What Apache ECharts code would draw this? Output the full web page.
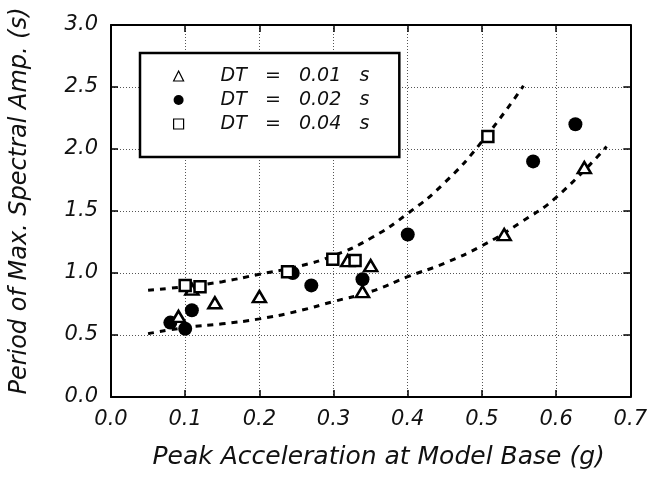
<!DOCTYPE html>
<html>
<head>
<meta charset="utf-8">
<script src="https://cdn.jsdelivr.net/npm/echarts@6/dist/echarts.min.js"></script>
<style>html,body{margin:0;padding:0;background:#fff}#c{width:650px;height:482px}</style>
</head>
<body>
<div id="c"></div>
<script>
// ---- data ----
var xTicks = [0.0, 0.1, 0.2, 0.3, 0.4, 0.5, 0.6, 0.7];
var yTicks = [0.0, 0.5, 1.0, 1.5, 2.0, 2.5, 3.0];

var dt01Name = 'DT   =   0.01   s';
var dt01X = [0.091, 0.109, 0.140, 0.200, 0.319, 0.339, 0.350, 0.530, 0.638];
var dt01Y = [0.65, 0.87, 0.76, 0.81, 1.10, 0.85, 1.06, 1.31, 1.85];

var dt02Name = 'DT   =   0.02   s';
var dt02X = [0.080, 0.100, 0.109, 0.245, 0.270, 0.339, 0.400, 0.569, 0.626];
var dt02Y = [0.60, 0.55, 0.70, 1.00, 0.90, 0.95, 1.31, 1.90, 2.20];

var dt04Name = 'DT   =   0.04   s';
var dt04X = [0.100, 0.120, 0.238, 0.299, 0.329, 0.508];
var dt04Y = [0.90, 0.89, 1.01, 1.11, 1.10, 2.10];

var upperX = [0.05, 0.10, 0.15, 0.20, 0.25, 0.30, 0.35, 0.40, 0.45, 0.50, 0.556];
var upperY = [0.86, 0.89, 0.93, 0.99, 1.05, 1.14, 1.28, 1.48, 1.73, 2.06, 2.51];

var lowerX = [0.05, 0.10, 0.15, 0.20, 0.25, 0.30, 0.35, 0.40, 0.45, 0.50, 0.55, 0.60, 0.668];
var lowerY = [0.51, 0.56, 0.59, 0.63, 0.69, 0.77, 0.85, 0.97, 1.08, 1.22, 1.40, 1.61, 2.02];

var xTitle = 'Peak Acceleration at Model Base (g)';
var yTitle = 'Period of Max. Spectral Amp. (s)';

function zip(xs, ys) { return xs.map(function (x, i) { return [x, ys[i]]; }); }

var FONT = 'DejaVu Sans';

var chart = echarts.init(document.getElementById('c'), null, { renderer: 'canvas' });

function baseAxis(extra) {
  var a = {
    type: 'value',
    axisLine: { show: true, onZero: false, lineStyle: { color: '#000', width: 2 } },
    axisTick: { show: true, inside: true, length: 7, lineStyle: { color: '#000', width: 1.5 } },
    splitLine: { show: false },
    axisLabel: { show: false }
  };
  for (var k in extra) a[k] = extra[k];
  return a;
}

var option = {
  animation: false,
  backgroundColor: '#fff',
  grid: { left: 110, right: 18, top: 25, bottom: 85, containLabel: false },
  xAxis: [
    baseAxis({
      min: xTicks[0], max: xTicks[xTicks.length - 1], interval: 0.1,
      position: 'bottom',
      axisLabel: { show: true, margin: 12, formatter: function (v) { return v.toFixed(1); }, fontFamily: FONT, fontStyle: 'italic', fontSize: 21, color: '#111' },
      splitLine: { show: true, lineStyle: { color: '#555', width: 1, type: [1, 2] } },
      name: xTitle, nameLocation: 'middle', nameGap: 48,
      nameTextStyle: { fontFamily: FONT, fontStyle: 'italic', fontSize: 25, color: '#111', padding: [0, 0, 0, 16] }
    }),
    baseAxis({ min: xTicks[0], max: xTicks[xTicks.length - 1], interval: 0.1, position: 'top' })
  ],
  yAxis: [
    baseAxis({
      min: yTicks[0], max: yTicks[yTicks.length - 1], interval: 0.5,
      position: 'left',
      axisLabel: { show: true, margin: 13, formatter: function (v) { return v.toFixed(1); }, fontFamily: FONT, fontStyle: 'italic', fontSize: 21, color: '#111' },
      splitLine: { show: true, lineStyle: { color: '#555', width: 1, type: [1, 2] } },
      name: yTitle, nameLocation: 'middle', nameGap: 79,
      nameTextStyle: { fontFamily: FONT, fontStyle: 'italic', fontSize: 24, color: '#111', padding: [0, 0, 0, 20] }
    }),
    baseAxis({ min: yTicks[0], max: yTicks[yTicks.length - 1], interval: 0.5, position: 'right' })
  ],
  legend: {
    orient: 'vertical',
    left: 140, top: 53,
    padding: [13, 30, 23, 33],
    itemGap: 4,
    itemWidth: 10, itemHeight: 10,
    backgroundColor: '#fff',
    borderColor: '#000', borderWidth: 2.5, borderRadius: 0,
    textStyle: { fontFamily: FONT, fontStyle: 'italic', fontSize: 19, color: '#111', lineHeight: 20, padding: [0, 0, 0, 32] },
    data: [
      { name: dt01Name, icon: 'triangle', itemStyle: { color: '#fff', borderColor: '#000', borderWidth: 1.2 } },
      { name: dt02Name, icon: 'circle', itemStyle: { color: '#000', borderColor: '#000', borderWidth: 0 } },
      { name: dt04Name, icon: 'rect', itemStyle: { color: '#fff', borderColor: '#000', borderWidth: 1.2 } }
    ]
  },
  series: [
    {
      name: 'upper', type: 'line', data: zip(upperX, upperY), smooth: true, symbol: 'none',
      lineStyle: { color: '#000', width: 3, type: [6, 6] }, z: 2, silent: true
    },
    {
      name: 'lower', type: 'line', data: zip(lowerX, lowerY), smooth: true, symbol: 'none',
      lineStyle: { color: '#000', width: 3, type: [6, 6] }, z: 2, silent: true
    },
    {
      name: dt01Name, type: 'scatter', data: zip(dt01X, dt01Y), symbol: 'triangle', symbolSize: [13, 11],
      itemStyle: { color: '#fff', borderColor: '#000', borderWidth: 2.5, opacity: 1 }, z: 4
    },
    {
      name: dt02Name, type: 'scatter', data: zip(dt02X, dt02Y), symbol: 'circle', symbolSize: 14,
      itemStyle: { color: '#000', opacity: 1 }, z: 3
    },
    {
      name: dt04Name, type: 'scatter', data: zip(dt04X, dt04Y), symbol: 'rect', symbolSize: 11,
      itemStyle: { color: '#fff', borderColor: '#000', borderWidth: 2.5, opacity: 1 }, z: 4
    }
  ]
};
chart.setOption(option);
</script>
</body>
</html>
